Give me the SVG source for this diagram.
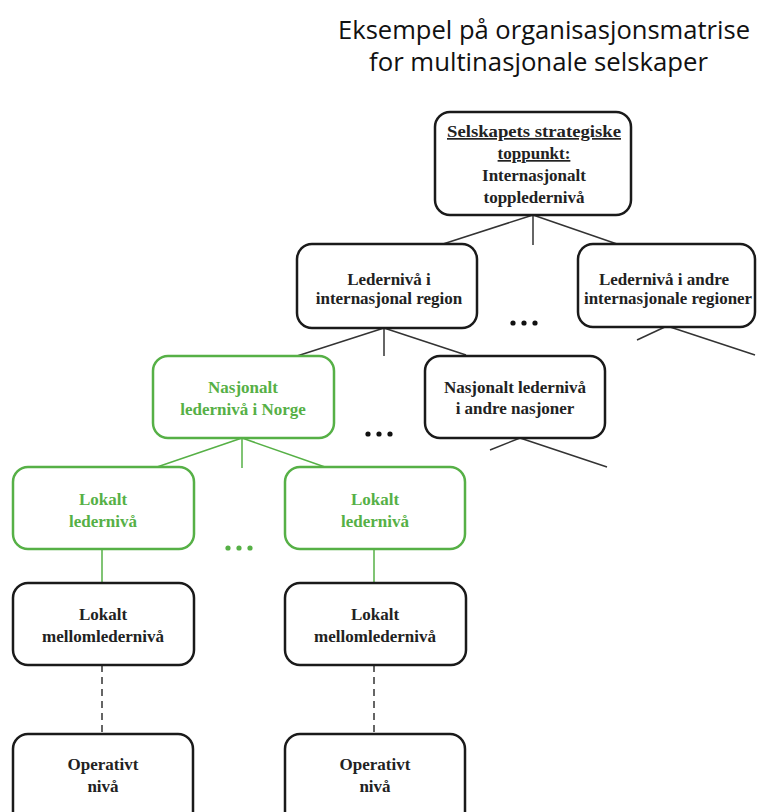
<svg xmlns="http://www.w3.org/2000/svg" width="757" height="812" viewBox="0 0 757 812">
<style>
.box{fill:#fff;stroke:#1a1a1a;stroke-width:2.5}
.gbox{fill:#fff;stroke:#56b046;stroke-width:2.5}
.t{font-family:"Liberation Serif","Times New Roman",serif;font-weight:bold;font-size:17px;fill:#222;text-anchor:middle}
.gt{font-family:"Liberation Serif","Times New Roman",serif;font-weight:bold;font-size:17px;fill:#56b046;text-anchor:middle}
.title{font-family:"Open Sans","Liberation Sans",sans-serif;font-size:25px;fill:#111;text-anchor:middle}
.ln{stroke:#333;stroke-width:1.5;fill:none}
.gln{stroke:#56b046;stroke-width:1.5;fill:none}
.dash{stroke:#333;stroke-width:1.5;stroke-dasharray:7 5;fill:none}
.dot{fill:#111}
</style>
<g id="title">
<text class="title" x="544" y="39" textLength="412" lengthAdjust="spacingAndGlyphs">Eksempel på organisasjonsmatrise</text>
<text class="title" x="538.5" y="71" textLength="339" lengthAdjust="spacingAndGlyphs">for multinasjonale selskaper</text>
</g>
<g id="connectors">
<line class="ln" x1="533" y1="215" x2="443" y2="244"/>
<line class="ln" x1="533" y1="215" x2="533" y2="245"/>
<line class="ln" x1="533" y1="215" x2="617" y2="244"/>
<line class="ln" x1="667" y1="326" x2="637" y2="340"/>
<line class="ln" x1="667" y1="326" x2="755" y2="355"/>
<line class="ln" x1="384" y1="328" x2="297" y2="356"/>
<line class="ln" x1="384" y1="328" x2="384" y2="356"/>
<line class="ln" x1="384" y1="328" x2="466" y2="355"/>
<line class="ln" x1="520" y1="438" x2="490" y2="450"/>
<line class="ln" x1="520" y1="438" x2="607" y2="467"/>
<line class="gln" x1="242" y1="438" x2="157" y2="467"/>
<line class="gln" x1="242" y1="438" x2="242" y2="468"/>
<line class="gln" x1="242" y1="438" x2="325" y2="467"/>
<line class="gln" x1="102" y1="549" x2="102" y2="583"/>
<line class="gln" x1="374" y1="549" x2="374" y2="583"/>
<line class="dash" x1="102" y1="665" x2="102" y2="734"/>
<line class="dash" x1="374" y1="665" x2="374" y2="734"/>
</g>
<g id="dots">
<circle class="dot" cx="513" cy="323" r="2.6"/><circle class="dot" cx="524" cy="323" r="2.6"/><circle class="dot" cx="535" cy="323" r="2.6"/>
<circle class="dot" cx="368" cy="434" r="2.6"/><circle class="dot" cx="379" cy="434" r="2.6"/><circle class="dot" cx="390" cy="434" r="2.6"/>
<circle fill="#56b046" cx="228" cy="548" r="2.6"/><circle fill="#56b046" cx="239" cy="548" r="2.6"/><circle fill="#56b046" cx="250" cy="548" r="2.6"/>
</g>
<g id="top">
<rect class="box" x="435" y="112" width="196" height="103" rx="15"/>
<text class="t" x="534" y="137" text-decoration="underline" textLength="174" lengthAdjust="spacingAndGlyphs">Selskapets strategiske</text>
<text class="t" x="534" y="159" text-decoration="underline">toppunkt:</text>
<text class="t" x="534" y="181">Internasjonalt</text>
<text class="t" x="534" y="203">topplederniv&#229;</text>
</g>
<g id="region">
<rect class="box" x="297" y="244" width="180" height="84" rx="15"/>
<text class="t" x="389" y="285">Ledernivå i</text>
<text class="t" x="389" y="304">internasjonal region</text>
</g>
<g id="other-regions">
<rect class="box" x="578" y="244" width="177" height="83" rx="15"/>
<text class="t" x="664" y="285">Ledernivå i andre</text>
<text class="t" x="668" y="304" textLength="168" lengthAdjust="spacingAndGlyphs">internasjonale regioner</text>
</g>
<g id="norge">
<rect class="gbox" x="153" y="356" width="181" height="82" rx="15"/>
<text class="gt" x="243" y="393">Nasjonalt</text>
<text class="gt" x="243" y="415">ledernivå i Norge</text>
</g>
<g id="other-nations">
<rect class="box" x="425" y="356" width="180" height="82" rx="15"/>
<text class="t" x="515" y="393">Nasjonalt ledernivå</text>
<text class="t" x="515" y="414">i andre nasjoner</text>
</g>
<g id="local1">
<rect class="gbox" x="13" y="467" width="181" height="82" rx="15"/>
<text class="gt" x="103" y="505">Lokalt</text>
<text class="gt" x="103" y="527">ledernivå</text>
</g>
<g id="local2">
<rect class="gbox" x="285" y="467" width="180" height="82" rx="15"/>
<text class="gt" x="375" y="505">Lokalt</text>
<text class="gt" x="375" y="527">ledernivå</text>
</g>
<g id="middle1">
<rect class="box" x="13" y="583" width="181" height="82" rx="15"/>
<text class="t" x="103" y="620">Lokalt</text>
<text class="t" x="103" y="642">mellomledernivå</text>
</g>
<g id="middle2">
<rect class="box" x="285" y="583" width="181" height="82" rx="15"/>
<text class="t" x="375" y="620">Lokalt</text>
<text class="t" x="375" y="642">mellomledernivå</text>
</g>
<g id="op1">
<rect class="box" x="13" y="734" width="180" height="96" rx="15"/>
<text class="t" x="103" y="770">Operativt</text>
<text class="t" x="103" y="792">nivå</text>
</g>
<g id="op2">
<rect class="box" x="285" y="734" width="180" height="96" rx="15"/>
<text class="t" x="375" y="770">Operativt</text>
<text class="t" x="375" y="792">nivå</text>
</g>
</svg>
